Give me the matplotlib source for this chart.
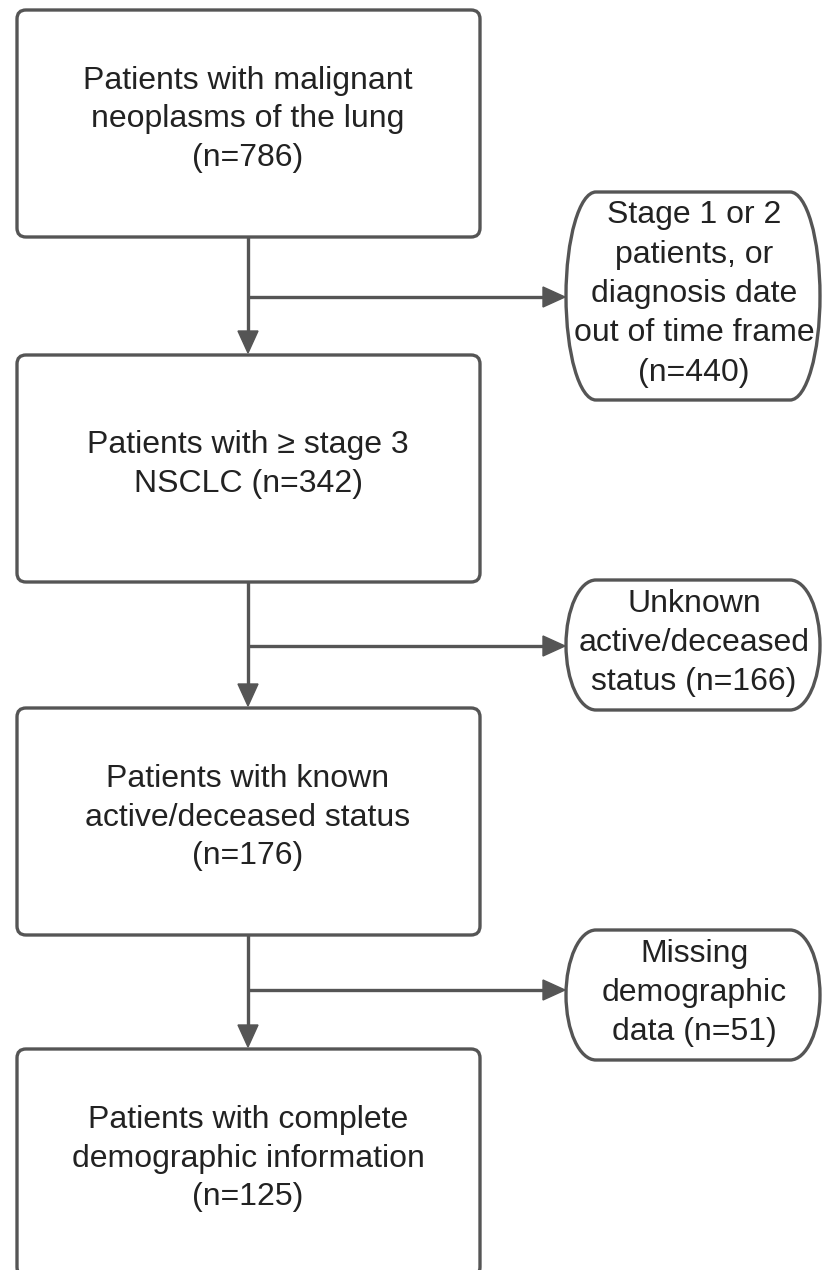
import matplotlib
matplotlib.use("Agg")
import matplotlib.pyplot as plt
from matplotlib.patches import FancyBboxPatch, PathPatch, Polygon
from matplotlib.path import Path

plt.rcParams['font.family'] = ['Liberation Sans', 'DejaVu Sans']

# Flow content
main_labels = [
    "Patients with malignant\nneoplasms of the lung\n(n=786)",
    "Patients with \u2265 stage 3\nNSCLC (n=342)",
    "Patients with known\nactive/deceased status\n(n=176)",
    "Patients with complete\ndemographic information\n(n=125)",
]
main_counts = [786, 342, 176, 125]
excl_labels = [
    "Stage 1 or 2\npatients, or\ndiagnosis date\nout of time frame\n(n=440)",
    "Unknown\nactive/deceased\nstatus (n=166)",
    "Missing\ndemographic\ndata (n=51)",
]
excl_counts = [440, 166, 51]

W, H = 822, 1270
fig = plt.figure(figsize=(W / 100, H / 100), dpi=100)
ax = fig.add_axes([0, 0, 1, 1])
ax.set_xlim(0, W)
ax.set_ylim(H, 0)
ax.axis('off')

EC = '#555555'
TC = '#222222'
LW = 2.4
FS = 23

# layout (pixels)
main_x0, main_x1 = 17, 480
main_tops = [10, 355, 708, 1049]
main_h = 227
arrow_x = 248
excl_x0, excl_x1 = 566, 820
excl_boxes = [(192, 400), (580, 710), (930, 1060)]
branch_y = [297, 646, 990]

for top, lab in zip(main_tops, main_labels):
    p = FancyBboxPatch((main_x0, top), main_x1 - main_x0, main_h,
                       boxstyle="round,pad=0,rounding_size=9",
                       fc='white', ec=EC, lw=LW)
    ax.add_patch(p)
    cy = top + main_h / 2 - 4
    ax.text(arrow_x, cy, lab, ha='center', va='center', fontsize=FS,
            color=TC, linespacing=1.37)


def terminator(x0, x1, y0, y1, b):
    ym = (y0 + y1) / 2
    hh = (y1 - y0) / 2
    k = 0.5523
    verts = [
        (x0 + b, y0),
        (x1 - b, y0),
        (x1 - b + b * k, y0), (x1, ym - hh * k), (x1, ym),
        (x1, ym + hh * k), (x1 - b + b * k, y1), (x1 - b, y1),
        (x0 + b, y1),
        (x0 + b - b * k, y1), (x0, ym + hh * k), (x0, ym),
        (x0, ym - hh * k), (x0 + b - b * k, y0), (x0 + b, y0),
        (x0 + b, y0),
    ]
    codes = [Path.MOVETO, Path.LINETO,
             Path.CURVE4, Path.CURVE4, Path.CURVE4,
             Path.CURVE4, Path.CURVE4, Path.CURVE4,
             Path.LINETO,
             Path.CURVE4, Path.CURVE4, Path.CURVE4,
             Path.CURVE4, Path.CURVE4, Path.CURVE4,
             Path.CLOSEPOLY]
    return Path(verts, codes)


for (y0, y1), lab in zip(excl_boxes, excl_labels):
    path = terminator(excl_x0, excl_x1, y0, y1, 30)
    ax.add_patch(PathPatch(path, fc='white', ec=EC, lw=LW))
    ax.text((excl_x0 + excl_x1) / 2 + 1, (y0 + y1) / 2 - 2, lab,
            ha='center', va='center', fontsize=FS, color=TC, linespacing=1.41)


def arrowhead(tip, direction, L=22, Wd=20):
    x, y = tip
    if direction == 'down':
        pts = [(x, y), (x - Wd / 2, y - L), (x + Wd / 2, y - L)]
    else:
        pts = [(x, y), (x - L, y - Wd / 2), (x - L, y + Wd / 2)]
    ax.add_patch(Polygon(pts, closed=True, fc=EC, ec=EC, lw=1))


for i in range(3):
    y_from = main_tops[i] + main_h
    y_to = main_tops[i + 1]
    ax.plot([arrow_x, arrow_x], [y_from, y_to - 20], color=EC, lw=LW,
            solid_capstyle='butt')
    arrowhead((arrow_x, y_to - 2), 'down')
    by = branch_y[i]
    ax.plot([arrow_x, excl_x0 - 20], [by, by], color=EC, lw=LW,
            solid_capstyle='butt')
    arrowhead((excl_x0 - 1, by), 'right')

fig.savefig('out.png', dpi=100, facecolor='white')
